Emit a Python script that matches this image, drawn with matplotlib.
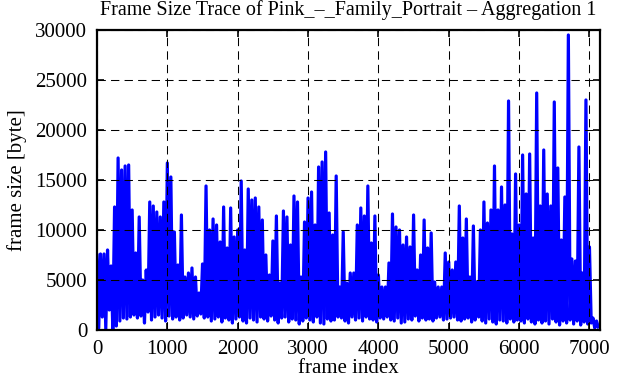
import numpy as np
import matplotlib
matplotlib.use("Agg")
import matplotlib.pyplot as plt

# frame size trace: upper envelope for every 50 frames
# and lower envelope between them (bytes)
bin_frames = 50
peak_bytes = [
    7500, 7600, 7600, 8000, 6400, 12300, 17200, 16000, 16400, 16500,
    12000, 7700, 11300, 5000, 6000, 12800, 12400, 11800, 11300, 12800,
    16700, 15300, 9800, 6500, 11500, 5300, 5700, 6200, 5300, 3700,
    6600, 14400, 10000, 11100, 10500, 8800, 12300, 8200, 12200, 9300,
    10000, 14900, 8000, 14100, 13000, 13200, 12300, 11000, 7500, 5500,
    8900, 11400, 4700, 11900, 11300, 8500, 13400, 12800, 5300, 10800,
    13200, 13800, 10500, 16300, 16800, 17800, 11700, 9500, 15400, 4300,
    9800, 4700, 5700, 5700, 10500, 12200, 11400, 14400, 8700, 11400,
    5500, 4300, 4300, 6700, 11600, 10300, 10000, 8500, 9300, 8300,
    11500, 6000, 7500, 11000, 8200, 9700, 4800, 4300, 4300, 7700,
    6800, 6000, 6800, 12400, 9200, 11100, 5300, 10400, 4800, 10000,
    12800, 10700, 12000, 16400, 12000, 14300, 12500, 22900, 9600, 15600,
    10500, 17500, 13600, 17600, 9200, 23700, 12400, 18000, 13600, 12400,
    22800, 16200, 9000, 13300, 29500, 7100, 6900, 18300, 5700, 23000,
    8300, 1200, 900,
]
low_bytes = [
    200, 1300, 100, 2000, 100, 400, 900, 1200, 1100, 1300,
    1500, 1200, 1400, 700, 1800, 1000, 1300, 1500, 1200, 900,
    1400, 1100, 1300, 1000, 1200, 1500, 1300, 1100, 1400, 1600,
    1200, 1300, 900, 1100, 1300, 800, 1200, 1000, 700, 1100,
    1300, 900, 700, 1200, 1000, 800, 1300, 1100, 900, 1400,
    1000, 700, 1200, 1300, 800, 1100, 1000, 600, 900, 1200,
    1000, 800, 1300, 700, 600, 1100, 900, 1000, 1300, 1200,
    900, 700, 1300, 1000, 1200, 900, 1300, 1100, 1000, 800,
    1200, 1100, 1300, 1000, 900, 1200, 700, 800, 1100, 1000,
    1400, 900, 1200, 1000, 1100, 900, 1200, 1300, 1000, 1100,
    1200, 1300, 1000, 900, 1100, 1200, 800, 1000, 1300, 900,
    700, 1100, 800, 600, 1000, 900, 700, 1100, 800, 1000,
    900, 700, 1100, 800, 600, 1000, 700, 900, 600, 1100,
    800, 500, 900, 700, 1000, 600, 900, 500, 800, 600,
    700, 200, 300,
]

xticks = [0, 1000, 2000, 3000, 4000, 5000, 6000, 7000]
yticks = [0, 5000, 10000, 15000, 20000, 25000, 30000]
title = "Frame Size Trace of Pink_\u2013_Family_Portrait \u2013 Aggregation 1"

plt.rcParams['font.family'] = ['Liberation Serif', 'DejaVu Serif']

n = len(peak_bytes)
start = np.arange(n) * bin_frames
frames = np.empty(2 * n)
sizes = np.empty(2 * n)
frames[0::2] = start
frames[1::2] = start + bin_frames / 2
sizes[0::2] = peak_bytes
sizes[1::2] = low_bytes

fig = plt.figure(figsize=(6.44, 3.80), dpi=100)
ax = fig.add_axes([0.1506, 0.1316, 0.7811, 0.7895])

ax.plot(frames, sizes, color='#0000ff', lw=2.3, zorder=2)

ax.set_xlim(0, 7150)
ax.set_ylim(0, 30000)
ax.set_xticks(xticks)
ax.set_yticks(yticks)
ax.grid(True, color='black', lw=0.75, linestyle=(0, (8, 5)))
ax.set_axisbelow(False)

ax.tick_params(direction='in', length=5, width=1.2, top=True, right=True,
               labelsize=15)
ax.tick_params(axis='x', pad=7)
ax.tick_params(axis='y', pad=7)
for s in ax.spines.values():
    s.set_linewidth(1.6)

ax.set_title(title, fontsize=14.5, pad=11)
ax.set_xlabel("frame index", fontsize=15, labelpad=0)
ax.set_ylabel("frame size [byte]", fontsize=15, labelpad=6)

fig.savefig("out.png", dpi=100)
